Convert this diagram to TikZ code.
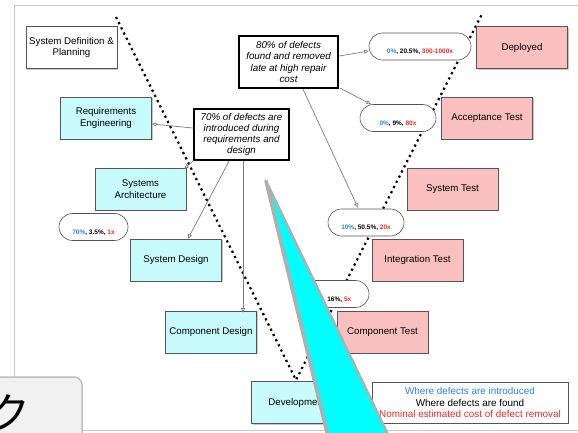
\documentclass[tikz,border=0pt]{standalone}
\usepackage{fontspec}
\setmainfont{Liberation Sans}
\newfontfamily\jpfont{Noto Sans CJK JP}
\usetikzlibrary{arrows.meta,shadows,shapes.misc}

\definecolor{specfill}{RGB}{200,252,252}
\definecolor{testfill}{RGB}{250,192,192}
\definecolor{boxline}{RGB}{85,85,85}
\definecolor{linkgray}{RGB}{125,125,125}
\definecolor{introblue}{RGB}{45,130,240}
\definecolor{costred}{RGB}{238,45,35}
\definecolor{framegray}{RGB}{200,200,200}
\definecolor{tabfill}{RGB}{241,241,241}
\definecolor{tabline}{RGB}{190,190,190}
\definecolor{pointerfill}{RGB}{0,255,255}
\definecolor{pointerline}{RGB}{175,175,175}

\newcommand{\intro}[1]{\textcolor{introblue}{#1}}
\newcommand{\cost}[1]{\textcolor{costred}{#1}}

\begin{document}
\begin{tikzpicture}[x=1pt,y=-1pt,
  phase/.style={draw=boxline, line width=0.6pt, minimum width=91pt, minimum height=42pt,
    inner sep=2pt, align=center, font=\fontsize{9.7}{11.7}\selectfont,
    drop shadow={shadow xshift=1pt, shadow yshift=-1.3pt, opacity=0.45}},
  spec/.style={phase, fill=specfill},
  test/.style={phase, fill=testfill},
  plainbox/.style={phase, fill=white},
  note/.style={draw=black, line width=2.4pt, fill=white, align=center, inner sep=2pt,
    font=\itshape\fontsize{9.8}{11.3}\selectfont},
  stat/.style={rounded rectangle, draw=boxline, line width=0.6pt, fill=white,
    minimum height=27pt, text height=14pt, text depth=0pt, inner xsep=2pt,
    font=\bfseries\fontsize{6.5}{7}\selectfont},
  link/.style={draw=linkgray, line width=0.7pt, -{Triangle[open,length=4.5pt,width=4pt]}},
  vline/.style={line width=2.2pt, dash pattern=on 2.2pt off 3.6pt},
]
\clip (0,0) rectangle (578,433);

% window frame
\draw[framegray, line width=1pt] (14,6) rectangle (600,430);

% the V of development phases
\coordinate (vbottom) at (296,380);
\coordinate (vleft) at (116,17);
\coordinate (vright) at (482,14);
\draw[vline] (vleft) -- (vbottom) -- (vright);

% specification and design side
\node[plainbox] (sysdef)   at (71.5,47.5) {System Definition \&\\Planning};
\node[spec]     (reqeng)   at (106,118)   {Requirements\\Engineering};
\node[spec]     (sysarch)  at (140.5,189) {Systems\\Architecture};
\node[spec]     (sysdes)   at (176,260)   {System Design};
\node[spec]     (compdes)  at (211,332)   {Component Design};
\node[spec]     (devel)    at (297,402.5) {Development};

% verification side
\node[test] (deployed) at (522,47.5)  {Deployed};
\node[test] (acctest)  at (487,118)   {Acceptance Test};
\node[test] (systest)  at (452.5,189) {System Test};
\node[test] (inttest)  at (417.5,260) {Integration Test};
\node[test] (comptest) at (382.5,332) {Component Test};

% defect statistics
\node[stat, minimum width=106pt] (sdeploy) at (420,46.5) {\intro{0\%}, 20.5\%, \cost{300-1000x}};
\node[stat, minimum width=80pt]  (saccept) at (398,118)  {\intro{0\%}, 9\%, \cost{80x}};
\node[stat, minimum width=80pt]  (sinteg)  at (366,222.5) {\intro{10\%}, 50.5\%, \cost{20x}};
\node[stat, minimum width=80pt]  (scomp)   at (331,294)  {\intro{20\%}, 16\%, \cost{5x}};
\node[stat, minimum width=73pt]  (sreq)    at (93.5,227) {\intro{70\%}, 3.5\%, \cost{1x}};

% notes
\node[note, minimum width=95pt, minimum height=51pt] (intronote) at (241.5,134.5)
  {70\% of defects are\\introduced during\\requirements and\\design};
\node[note, minimum width=99pt, minimum height=52pt] (foundnote) at (288.5,62)
  {80\% of defects\\found and removed\\late at high repair\\cost};

% legend
\node[draw=boxline, line width=0.6pt, fill=white, minimum width=196pt, minimum height=41pt,
  align=center, font=\fontsize{9.9}{11.3}\selectfont] (legend) at (470,402.5)
  {\intro{Where defects are introduced}\\Where defects are found\\\cost{Nominal estimated cost of defect removal}};

% note connectors
\draw[link] ([yshift=6.5pt]intronote.west) -- ([yshift=-6pt]reqeng.east);
\draw[link] (intronote.south west) -- ([xshift=-2pt,yshift=-1pt]sysarch.north east);
\draw[link] ([xshift=-12.5pt]intronote.south) -- ([xshift=12pt]sysdes.north);
\draw[link] ([xshift=1.5pt]intronote.south) -- ([xshift=1.5pt,yshift=-2pt]intronote.south |- compdes.north);
\draw[link] ([yshift=6pt]foundnote.east) -- ([yshift=-4.5pt]sdeploy.west);
\draw[link] ([xshift=1pt,yshift=1pt]foundnote.south east) -- ([xshift=-27pt]saccept.north);
\draw[link] ([xshift=14.5pt]foundnote.south) -- ([xshift=-8pt,yshift=1pt]sinteg.north);

% pointer wedge, its left edge drawn a little heavier
\coordinate (tip) at (266,181);
\coordinate (baseleft) at (330,445);
\coordinate (baseright) at (393,445);
\filldraw[fill=pointerfill, draw=pointerline, line width=2.5pt, line join=round]
  (tip) -- (baseleft) -- (baseright) -- cycle;
\draw[pointerline, line width=3.5pt, line cap=round] (tip) -- (baseleft);

% tab in the lower left corner
\filldraw[fill=tabfill, draw=tabline, line width=1.5pt, rounded corners=8pt]
  (-20,377) rectangle (82,460);
\node[font=\jpfont\fontsize{42}{42}\selectfont, anchor=base west, inner sep=0pt] (tabtext)
  at (-11.6,428) {ク};
\end{tikzpicture}
\end{document}
